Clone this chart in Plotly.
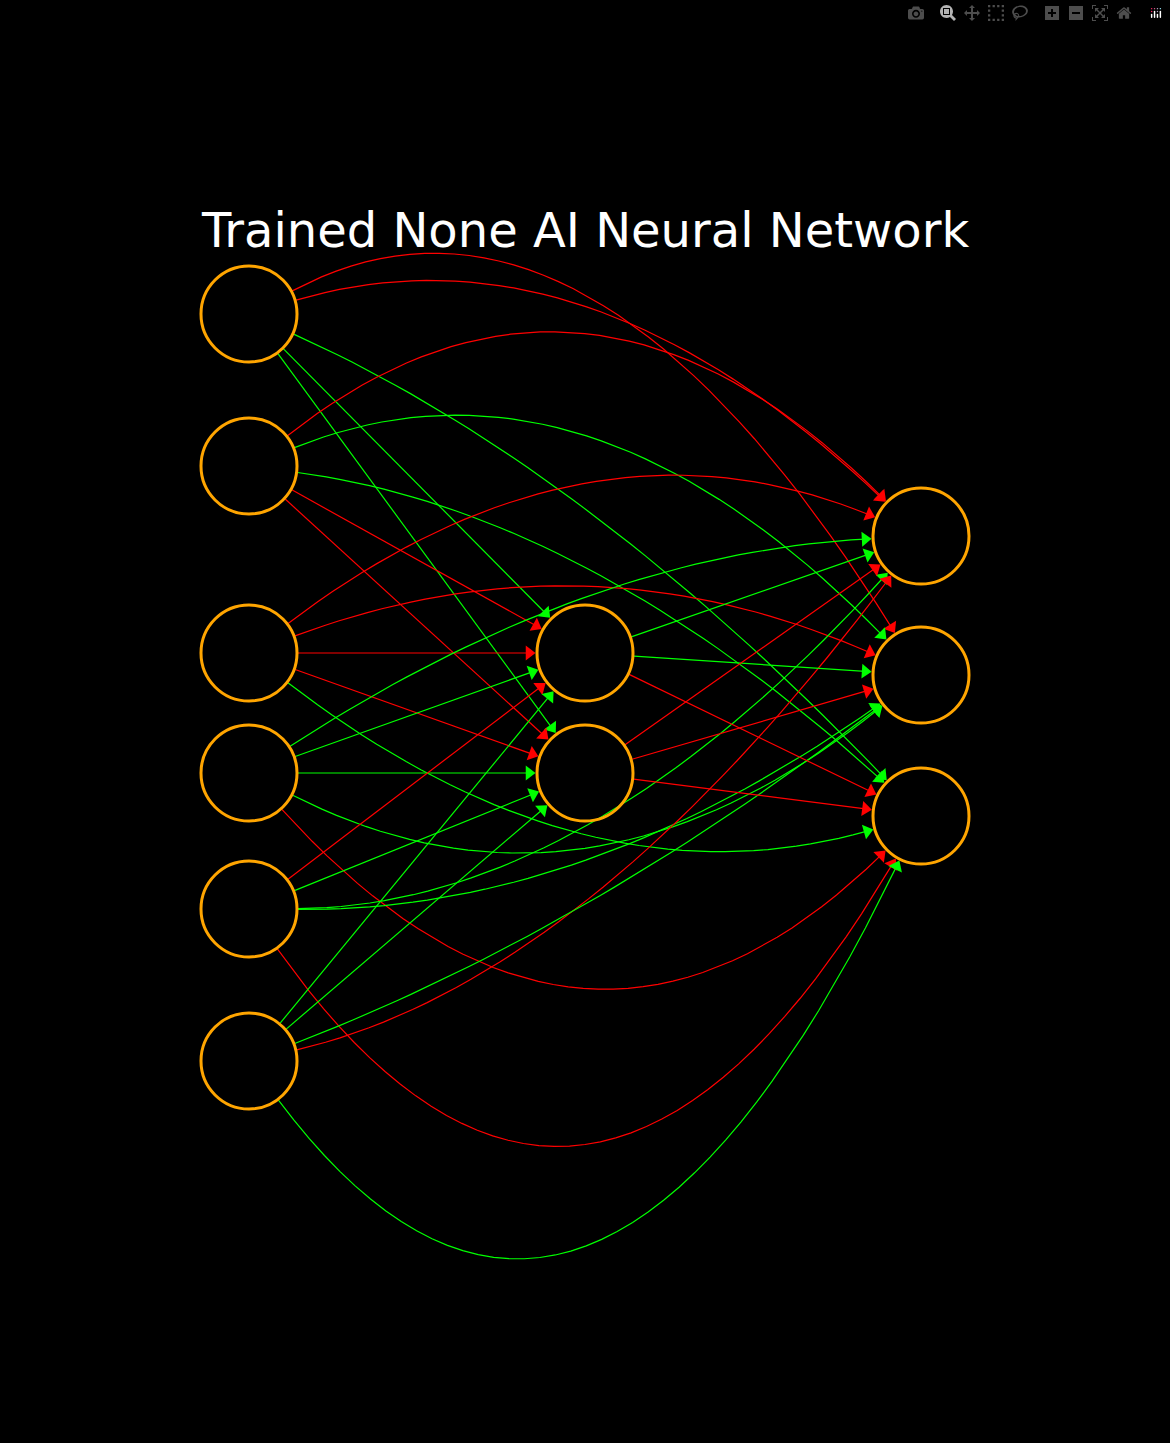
import math
import plotly.graph_objects as go

# node layout (pixel space, y grows downward)
input_x = 249
input_y = [314, 466, 653, 773, 909, 1061]
hidden_x = 585
hidden_y = [653, 773]
output_x = 921
output_y = [536, 675, 816]
radius = 48

RED = '#ff0000'
GREEN = '#00ff00'

# edges: (from, to, color, bend of the midpoint in px)
edges = [
    ('i0', 'o1', RED, -180), ('i0', 'o0', RED, -105), ('i0', 'o2', GREEN, -50),
    ('i0', 'h0', GREEN, 0), ('i0', 'h1', GREEN, 0),
    ('i1', 'o0', RED, -150), ('i1', 'o1', GREEN, -120), ('i1', 'o2', GREEN, -65),
    ('i1', 'h0', RED, 0), ('i1', 'h1', RED, 0),
    ('i2', 'o0', RED, -98), ('i2', 'o1', RED, -68), ('i2', 'o2', GREEN, 88),
    ('i2', 'h0', RED, 0), ('i2', 'h1', RED, 0),
    ('i3', 'o0', GREEN, -50), ('i3', 'o1', GREEN, 110), ('i3', 'o2', RED, 175),
    ('i3', 'h0', GREEN, 0), ('i3', 'h1', GREEN, 0),
    ('i4', 'o0', GREEN, 92), ('i4', 'o1', GREEN, 60), ('i4', 'o2', RED, 260),
    ('i4', 'h0', RED, 0), ('i4', 'h1', GREEN, 0),
    ('i5', 'o0', RED, 92), ('i5', 'o1', GREEN, 32), ('i5', 'o2', GREEN, 285),
    ('i5', 'h0', GREEN, 0), ('i5', 'h1', GREEN, 0),
    ('h0', 'o0', GREEN, 0), ('h0', 'o1', GREEN, 0), ('h0', 'o2', RED, 0),
    ('h1', 'o0', RED, 0), ('h1', 'o1', RED, 0), ('h1', 'o2', RED, 0),
]

pos = {}
for i, y in enumerate(input_y):
    pos['i%d' % i] = (input_x, y)
for i, y in enumerate(hidden_y):
    pos['h%d' % i] = (hidden_x, y)
for i, y in enumerate(output_y):
    pos['o%d' % i] = (output_x, y)


def toward(c, p, r):
    dx, dy = p[0] - c[0], p[1] - c[1]
    d = math.hypot(dx, dy) or 1
    return (c[0] + r * dx / d, c[1] + r * dy / d)


fig = go.Figure()

for a, b, color, bend in edges:
    pa, pb = pos[a], pos[b]
    ctrl = ((pa[0] + pb[0]) / 2, (pa[1] + pb[1]) / 2 + 2 * bend)
    p0 = toward(pa, ctrl, radius + 1)
    p2 = toward(pb, ctrl, radius + 8)
    xs, ys = [], []
    for k in range(41):
        t = k / 40
        xs.append((1 - t) ** 2 * p0[0] + 2 * t * (1 - t) * ctrl[0] + t ** 2 * p2[0])
        ys.append((1 - t) ** 2 * p0[1] + 2 * t * (1 - t) * ctrl[1] + t ** 2 * p2[1])
    fig.add_trace(go.Scatter(x=xs, y=ys, mode='lines',
                             line=dict(color=color, width=1.2),
                             hoverinfo='skip', showlegend=False))
    # arrowhead
    dx, dy = p2[0] - ctrl[0], p2[1] - ctrl[1]
    ang = math.degrees(math.atan2(dx, -dy))
    fig.add_trace(go.Scatter(x=[p2[0]], y=[p2[1]], mode='markers',
                             marker=dict(symbol='triangle-up', size=13, angle=ang,
                                         color=color, line=dict(width=0)),
                             hoverinfo='skip', showlegend=False))

fig.add_trace(go.Scatter(
    x=[p[0] for p in pos.values()], y=[p[1] for p in pos.values()],
    mode='markers',
    marker=dict(symbol='circle-open', size=2 * radius, color='orange',
                line=dict(color='orange', width=3)),
    hoverinfo='skip', showlegend=False))

fig.add_annotation(x=585, y=230, text='Trained None AI Neural Network',
                   showarrow=False, font=dict(family='DejaVu Sans', size=48, color='white'))

fig.update_layout(
    width=1170, height=1443,
    margin=dict(l=0, r=0, t=0, b=0),
    paper_bgcolor='black', plot_bgcolor='black',
    xaxis=dict(range=[0, 1170], visible=False),
    yaxis=dict(range=[1443, 0], visible=False),
)

fig.write_html("out.html", post_script="document.body.style.margin='0';document.body.style.background='black';")
